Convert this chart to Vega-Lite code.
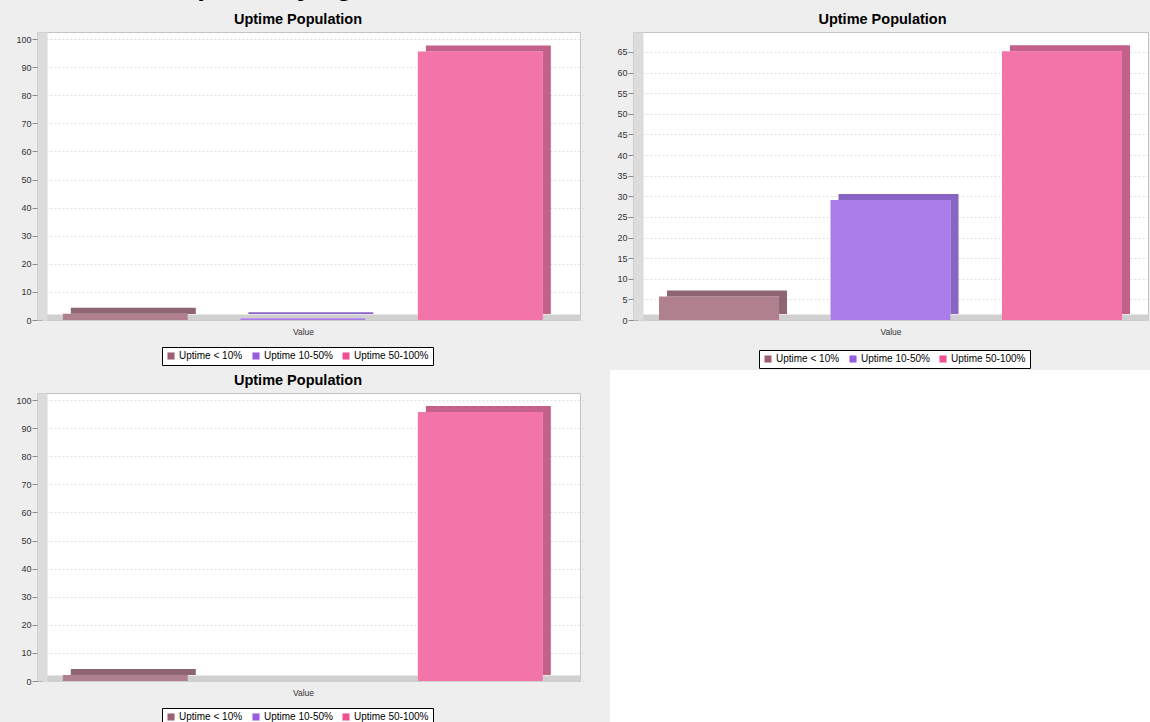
{
  "$schema": "https://vega.github.io/schema/vega-lite/v6.json",
  "background": "#EEEEEE",
  "padding": {"top": -27, "left": 15, "right": 0, "bottom": 0},
  "title": {"text": "Uptime by age", "fontSize": 28, "fontWeight": "bold", "anchor": "start", "frame": "group", "dx": 140, "offset": 10, "color": "#000000"},
  "datasets": {
    "p1": [
      {"series": "Uptime < 10%", "value": 2.2},
      {"series": "Uptime 10-50%", "value": 0.6},
      {"series": "Uptime 50-100%", "value": 95.6}
    ],
    "p2": [
      {"series": "Uptime < 10%", "value": 5.7},
      {"series": "Uptime 10-50%", "value": 29.1},
      {"series": "Uptime 50-100%", "value": 65.2}
    ],
    "p3": [
      {"series": "Uptime < 10%", "value": 2.1},
      {"series": "Uptime 10-50%", "value": 0},
      {"series": "Uptime 50-100%", "value": 95.7}
    ]
  },
  "columns": 2,
  "spacing": {"row": 1, "column": 29},
  "resolve": {"scale": {"color": "independent"}, "legend": {"color": "independent"}},
  "concat": [
    {
      "title": {"text": "Uptime Population"},
      "width": 543, "height": 288,
      "data": {"name": "p1"},
      "encoding": {
        "x": {"field": "series", "type": "nominal", "sort": ["Uptime < 10%", "Uptime 10-50%", "Uptime 50-100%"], "scale": {"paddingInner": 0.296, "paddingOuter": 0.1775, "align": 0.41}, "axis": {"title": "Value", "titleX": 266}},
        "y": {"field": "value", "type": "quantitative", "scale": {"domain": [0, 102.5], "nice": false}, "axis": {"title": null, "values": [0, 10, 20, 30, 40, 50, 60, 70, 80, 90, 100]}}
      },
      "layer": [
        {"mark": {"type": "bar", "xOffset": 8, "x2Offset": 8, "yOffset": -6, "y2Offset": -6}, "encoding": {"fill": {"field": "series", "type": "nominal", "scale": {"domain": ["Uptime < 10%", "Uptime 10-50%", "Uptime 50-100%"], "range": ["#8E6573", "#8964C4", "#C3618A"]}, "legend": null}}},
        {"mark": {"type": "bar", "fill": "white"}},
        {"mark": {"type": "bar", "opacity": 0.8}, "encoding": {"color": {"field": "series", "type": "nominal", "scale": {"domain": ["Uptime < 10%", "Uptime 10-50%", "Uptime 50-100%"], "range": ["#9C6072", "#965CE2", "#EF5192"]}, "legend": {"title": null, "legendX": 125, "legendY": 315}}}}
      ]
    },
    {
      "title": {"text": "Uptime Population"},
      "width": 515, "height": 288,
      "data": {"name": "p2"},
      "encoding": {
        "x": {"field": "series", "type": "nominal", "sort": ["Uptime < 10%", "Uptime 10-50%", "Uptime 50-100%"], "scale": {"paddingInner": 0.3, "paddingOuter": 0.1516, "align": 0.5}, "axis": {"title": "Value"}},
        "y": {"field": "value", "type": "quantitative", "scale": {"domain": [0, 69.85], "nice": false}, "axis": {"title": null, "values": [0, 5, 10, 15, 20, 25, 30, 35, 40, 45, 50, 55, 60, 65]}}
      },
      "layer": [
        {"mark": {"type": "bar", "xOffset": 8, "x2Offset": 8, "yOffset": -6, "y2Offset": -6}, "encoding": {"fill": {"field": "series", "type": "nominal", "scale": {"domain": ["Uptime < 10%", "Uptime 10-50%", "Uptime 50-100%"], "range": ["#8E6573", "#8964C4", "#C3618A"]}, "legend": null}}},
        {"mark": {"type": "bar", "fill": "white"}},
        {"mark": {"type": "bar", "opacity": 0.8}, "encoding": {"color": {"field": "series", "type": "nominal", "scale": {"domain": ["Uptime < 10%", "Uptime 10-50%", "Uptime 50-100%"], "range": ["#9C6072", "#965CE2", "#EF5192"]}, "legend": {"title": null, "legendX": 126, "legendY": 318}}}}
      ]
    },
    {
      "title": {"text": "Uptime Population"},
      "width": 543, "height": 288,
      "data": {"name": "p3"},
      "encoding": {
        "x": {"field": "series", "type": "nominal", "sort": ["Uptime < 10%", "Uptime 10-50%", "Uptime 50-100%"], "scale": {"paddingInner": 0.296, "paddingOuter": 0.1775, "align": 0.41}, "axis": {"title": "Value", "titleX": 266}},
        "y": {"field": "value", "type": "quantitative", "scale": {"domain": [0, 102.5], "nice": false}, "axis": {"title": null, "values": [0, 10, 20, 30, 40, 50, 60, 70, 80, 90, 100]}}
      },
      "layer": [
        {"mark": {"type": "bar", "xOffset": 8, "x2Offset": 8, "yOffset": -6, "y2Offset": -6}, "encoding": {"fill": {"field": "series", "type": "nominal", "scale": {"domain": ["Uptime < 10%", "Uptime 10-50%", "Uptime 50-100%"], "range": ["#8E6573", "#8964C4", "#C3618A"]}, "legend": null}}},
        {"mark": {"type": "bar", "fill": "white"}},
        {"mark": {"type": "bar", "opacity": 0.8}, "encoding": {"color": {"field": "series", "type": "nominal", "scale": {"domain": ["Uptime < 10%", "Uptime 10-50%", "Uptime 50-100%"], "range": ["#9C6072", "#965CE2", "#EF5192"]}, "legend": {"title": null, "legendX": 125, "legendY": 315}}}}
      ]
    },
    {
      "width": 540, "height": 352,
      "data": {"values": []},
      "mark": "point",
      "view": {"fill": "white", "stroke": "white", "strokeWidth": 46}
    }
  ],
  "config": {
    "font": "Liberation Sans",
    "view": {"fill": "white", "stroke": "#C4C4C4", "strokeWidth": 1},
    "title": {"fontSize": 14.5, "fontWeight": "bold", "anchor": "middle", "frame": "bounds", "offset": 5, "color": "#000000"},
    "axisY": {"offset": -5, "domainWidth": 10, "domainColor": "#DCDCDC", "domainCap": "butt", "tickSize": 10, "tickColor": "#8A8A8A", "labelPadding": 1, "labelFontSize": 9, "labelColor": "#333333", "grid": true, "gridColor": "#D6D6D6", "gridDash": [2, 2], "gridWidth": 0.8},
    "axisX": {"offset": -3, "domainWidth": 6, "domainColor": "#D0D0D0", "domainCap": "butt", "ticks": false, "labels": false, "grid": false, "titleFontSize": 8.5, "titleFontWeight": "normal", "titlePadding": 10, "titleColor": "#333333"},
    "legend": {"orient": "none", "direction": "horizontal", "strokeColor": "#000000", "fillColor": "#FFFFFF", "padding": 4, "symbolType": "square", "symbolSize": 50, "symbolStrokeWidth": 0, "symbolOpacity": 1, "labelFontSize": 10, "labelColor": "#000000", "columnPadding": 8, "labelOffset": 3, "cornerRadius": 0}
  }
}
